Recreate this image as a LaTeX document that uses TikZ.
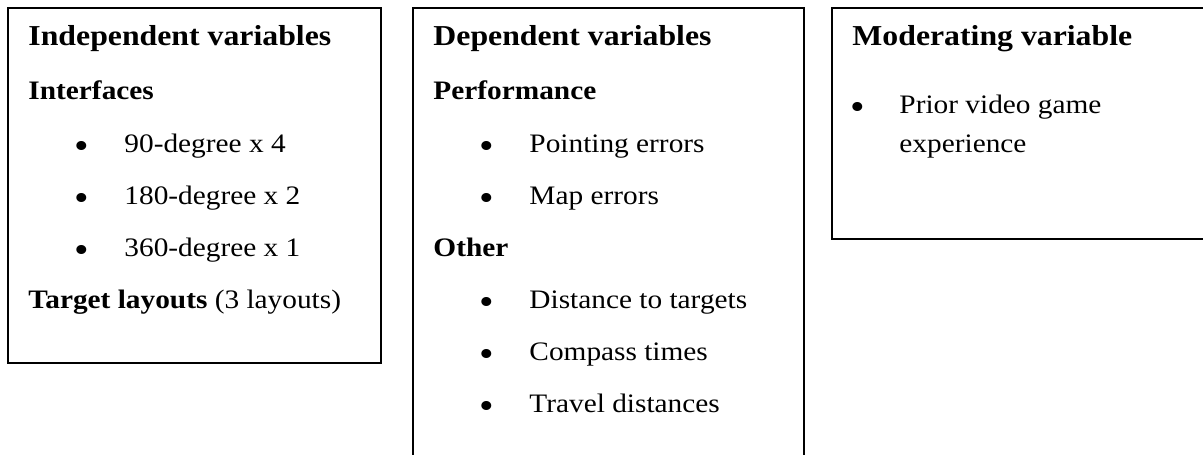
\documentclass[tikz,border=0pt]{standalone}
\usepackage{fontspec}
\setmainfont[FakeStretch=1.1]{Liberation Serif}
\begin{document}
\begin{tikzpicture}[x=0.45pt,y=-0.45pt,
  panel/.style={draw=black,line width=0.7pt},
  txt/.style={anchor=base west,inner sep=0pt,font=\fontsize{12}{14}\selectfont},
  sub/.style={txt,font=\fontsize{12}{14}\selectfont\bfseries},
  head/.style={txt,font=\fontsize{13}{15}\selectfont\bfseries},
  bul/.style={anchor=base,inner sep=0pt,yshift=-2.3pt,font=\fontsize{17}{19}\selectfont}]
\useasboundingbox (0,0) rectangle (1203,455);
\clip (0,0) rectangle (1203,455);
\fill[white] (0,0) rectangle (1203,455);
% boxes
\draw[panel] (8,8) rectangle (381,363);
\draw[panel] (413,8) rectangle (804,475);
\draw[panel] (832,8) rectangle (1220,239);
% box 1
\node[head] (t1) at (28,46) {Independent variables};
\node[sub] (h1a) at (28,100) {Interfaces};
\node[bul] (p1a) at (82,153) {•};
\node[txt] (i1a) at (124,153) {90-degree x 4};
\node[bul] (p1b) at (82,205) {•};
\node[txt] (i1b) at (124,205) {180-degree x 2};
\node[bul] (p1c) at (82,257) {•};
\node[txt] (i1c) at (124,257) {360-degree x 1};
\node[txt] (h1b) at (28,309) {\textbf{Target layouts} (3 layouts)};
% box 2
\node[head] (t2) at (433,46) {Dependent variables};
\node[sub] (h2a) at (433,100) {Performance};
\node[bul] (p2a) at (487,153) {•};
\node[txt] (i2a) at (529,153) {Pointing errors};
\node[bul] (p2b) at (487,205) {•};
\node[txt] (i2b) at (529,205) {Map errors};
\node[sub] (h2b) at (433,257) {Other};
\node[bul] (p2c) at (487,309) {•};
\node[txt] (i2c) at (529,309) {Distance to targets};
\node[bul] (p2d) at (487,361) {•};
\node[txt] (i2d) at (529,361) {Compass times};
\node[bul] (p2e) at (487,413) {•};
\node[txt] (i2e) at (529,413) {Travel distances};
% box 3
\node[head] (t3) at (852,46) {Moderating variable};
\node[bul] (p3a) at (858,114) {•};
\node[txt] (i3a) at (899,114) {Prior video game};
\node[txt] (i3b) at (899,153) {experience};
\end{tikzpicture}
\end{document}
